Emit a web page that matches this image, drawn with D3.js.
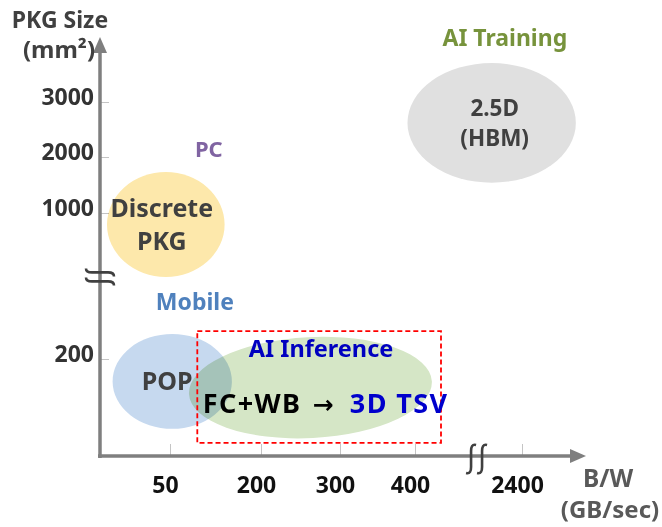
<!DOCTYPE html>
<html>
<head>
<meta charset="utf-8">
<script src="https://cdn.jsdelivr.net/npm/d3@7"></script>
<style>
  body { margin: 0; background: #fff; }
  svg { display: block; }
</style>
</head>
<body>
<svg id="chart"></svg>
<script>
/* ── Data (B/W in GB/sec, package size in mm²) ── */
const bwTicks = [50, 200, 300, 400, 2400];
const sizeTicks = [200, 1000, 2000, 3000];

// application segments and where their names sit
const segments = ['AI Training', 'PC', 'Mobile', 'AI Inference'];
const segmentBw = [2080, 114, 91, 276];
const segmentSize = [4030, 2000, 468, 210];

// package technologies: B/W range and size range of each bubble
const packages = ['2.5D\n(HBM)', 'Discrete\nPKG', 'POP', ''];
const packageBw = [[390, 3340], [5, 140], [9, 152], [81, 718]];
const packageSize = [[1540, 3720], [650, 1730], [56, 337], [37, 320]];

// AI inference transition and its highlight box
const inferenceFrom = 'FC+WB';
const inferenceTo = '3D TSV';
const inferenceAt = [104, 89];
const focusBw = [95, 886];
const focusSize = [27, 353];

/* ── Styles ── */
const FONT = "'Noto Sans', sans-serif";
const AXIS = '#7f7f7f';
const TEXT = '#404040';
const segmentColors = ['#77933c', '#8064a2', '#4f81bd', '#0000c0'];
const segmentFont = [23, 22, 23, 23.5];
const packageFill = ['#e0e0e0', '#fde8ab', '#c6d9ef', '#d5e6c6'];
const packageFont = [22.5, 25, 25, 0];
const packageLabelDx = [3, -4, -5, 0];

const W = 662, H = 527;
const svg = d3.select('#chart').attr('width', W).attr('height', H)
  .attr('font-family', FONT).attr('font-weight', 'bold');

/* ── Scales (broken axes: piecewise linear) ── */
const x = d3.scaleLinear()
  .domain([0, 50, 200, 300, 400, 2400, 3500])
  .range([100, 170, 261, 340, 415, 522, 585]);
const y = d3.scaleLinear()
  .domain([0, 200, 1000, 2000, 3000, 4200])
  .range([456, 359, 213, 157, 102, 37]);

const x0 = x(0), y0 = y(0);

/* ── Tick marks + labels ── */
svg.append('g')
  .attr('transform', `translate(${x0},0)`)
  .call(d3.axisLeft(y).tickValues(sizeTicks).tickSize(-9).tickPadding(6).tickFormat(d3.format('d')))
  .call((a) => a.select('.domain').remove())
  .call((a) => a.selectAll('line').attr('stroke', '#c4c4c4'))
  .call((a) => a.selectAll('text')
    .attr('dy', '0.1em')
    .attr('fill', '#333')
    .attr('font-size', 23)
    .attr('font-family', FONT)
    .attr('font-weight', 'bold'));

svg.append('g')
  .attr('transform', `translate(0,${y0})`)
  .call(d3.axisBottom(x).tickValues(bwTicks).tickSize(-12).tickFormat(d3.format('d')))
  .call((a) => a.select('.domain').remove())
  .call((a) => a.selectAll('line').attr('stroke', '#c4c4c4'))
  .call((a) => a.selectAll('text')
    .attr('y', 0)
    .attr('dy', 37)
    .attr('dx', -5)
    .attr('fill', '#111')
    .attr('font-size', 23)
    .attr('font-family', FONT)
    .attr('font-weight', 'bold'));

/* ── Axis lines with arrow heads ── */
svg.append('line')
  .attr('x1', x0).attr('y1', y0 + 2).attr('x2', x0).attr('y2', 52)
  .attr('stroke', AXIS).attr('stroke-width', 3.5);
svg.append('path')
  .attr('d', `M${x0 - 7},53 L${x0},37 L${x0 + 7},53 Z`)
  .attr('fill', AXIS);
svg.append('line')
  .attr('x1', x0 - 2).attr('y1', y0).attr('x2', 571).attr('y2', y0)
  .attr('stroke', AXIS).attr('stroke-width', 3.5);
svg.append('path')
  .attr('d', `M570,${y0 - 7} L586,${y0} L570,${y0 + 7} Z`)
  .attr('fill', AXIS);

/* ── Axis breaks ── */
const by = y(650);
[by - 4.5, by + 4.5].forEach((yy) => {
  svg.append('path')
    .attr('d', `M86,${yy - 4} C86,${yy - 1} 88,${yy} 92,${yy} L108,${yy} C112,${yy} 114,${yy + 1} 114,${yy + 4}`)
    .attr('fill', 'none').attr('stroke', '#404040').attr('stroke-width', 2.6);
});
const bx = x(1560);
[bx - 6, bx + 5].forEach((xx) => {
  svg.append('path')
    .attr('d', `M${xx + 5},445 C${xx + 1},444 ${xx},447 ${xx},451 L${xx},467 C${xx},471 ${xx - 1},474 ${xx - 5},473`)
    .attr('fill', 'none').attr('stroke', '#404040').attr('stroke-width', 2.6);
});

/* ── Package bubbles ── */
const bubble = packages.map((p, i) => ({
  label: p,
  cx: (x(packageBw[i][0]) + x(packageBw[i][1])) / 2,
  cy: (y(packageSize[i][0]) + y(packageSize[i][1])) / 2,
  rx: Math.abs(x(packageBw[i][1]) - x(packageBw[i][0])) / 2,
  ry: Math.abs(y(packageSize[i][0]) - y(packageSize[i][1])) / 2,
  i
}));

svg.append('g').selectAll('ellipse')
  .data(bubble)
  .join('ellipse')
  .attr('cx', (d) => d.cx)
  .attr('cy', (d) => d.cy)
  .attr('rx', (d) => d.rx)
  .attr('ry', (d) => d.ry)
  .attr('transform', (d) => d.i === 3 ? `rotate(-3,${d.cx},${d.cy})` : null)
  .attr('fill', (d) => packageFill[d.i])
  .style('mix-blend-mode', 'multiply');

/* ── Highlight box ── */
svg.append('rect')
  .attr('x', x(focusBw[0]))
  .attr('y', y(focusSize[1]))
  .attr('width', x(focusBw[1]) - x(focusBw[0]))
  .attr('height', y(focusSize[0]) - y(focusSize[1]))
  .attr('fill', 'none')
  .attr('stroke', '#ff0000')
  .attr('stroke-width', 1.8)
  .attr('stroke-dasharray', '5,3');

/* ── Bubble labels (one text per line) ── */
bubble.filter((d) => d.label).forEach((d) => {
  const lines = d.label.split('\n');
  const fs = packageFont[d.i];
  const lh = fs * 1.3;
  const first = d.cy - (lines.length - 1) * lh / 2 + fs * 0.36;
  lines.forEach((ln, k) => {
    svg.append('text')
      .attr('x', d.cx + packageLabelDx[d.i])
      .attr('y', first + k * lh)
      .attr('text-anchor', 'middle')
      .attr('fill', TEXT)
      .attr('font-size', fs)
      .text(ln);
  });
});

const inf = svg.append('text')
  .attr('x', x(inferenceAt[0]))
  .attr('y', y(inferenceAt[1]))
  .attr('font-size', 27)
  .attr('letter-spacing', 1.4);
inf.append('tspan').attr('fill', '#000').text(inferenceFrom);
inf.append('tspan').attr('fill', '#000').attr('dx', 11)
  .attr('font-family', "'DejaVu Sans', sans-serif").attr('font-size', 25).text('→');
inf.append('tspan').attr('fill', '#0000cc').attr('dx', 15).text(inferenceTo);

/* ── Segment names ── */
svg.append('g').selectAll('text')
  .data(segments)
  .join('text')
  .attr('x', (d, i) => x(segmentBw[i]))
  .attr('y', (d, i) => y(segmentSize[i]))
  .attr('text-anchor', 'middle')
  .attr('font-size', (d, i) => segmentFont[i])
  .attr('fill', (d, i) => segmentColors[i])
  .text((d) => d);

/* ── Axis titles ── */
svg.append('text').attr('x', 60).attr('y', 28).attr('text-anchor', 'middle')
  .attr('font-size', 23).attr('fill', TEXT).text('PKG Size');
svg.append('text').attr('x', 59).attr('y', 58).attr('text-anchor', 'middle')
  .attr('font-size', 24).attr('fill', TEXT).text('(mm²)');
svg.append('text').attr('x', 608).attr('y', 487).attr('text-anchor', 'middle')
  .attr('font-size', 24.5).attr('fill', '#595959').text('B/W');
svg.append('text').attr('x', 610).attr('y', 518).attr('text-anchor', 'middle')
  .attr('font-size', 24).attr('fill', '#595959').text('(GB/sec)');
</script>
</body>
</html>
